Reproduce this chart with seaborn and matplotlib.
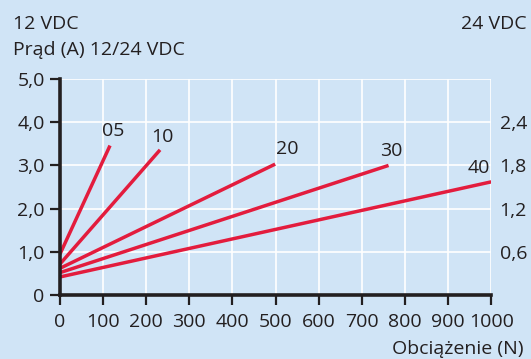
import matplotlib
matplotlib.use("Agg")
import matplotlib.pyplot as plt
import seaborn as sns
import pandas as pd

# -------------------------
# data
# -------------------------
models = ["05", "10", "20", "30", "40"]
load_start = [0, 0, 0, 0, 0]
load_end = [116, 232, 499, 762, 1000]
current_start = [0.95, 0.72, 0.62, 0.52, 0.42]
current_end = [3.46, 3.36, 3.03, 3.0, 2.62]
label_pos = [(123, 3.8), (238, 3.65), (527, 3.37), (768, 3.33), (972, 2.94)]

x_ticks = list(range(0, 1001, 100))
y_ticks = [0, 1, 2, 3, 4, 5]
y_labels = ["0", "1,0", "2,0", "3,0", "4,0", "5,0"]
right_ticks = [1, 2, 3, 4]
right_labels = ["0,6", "1,2", "1,8", "2,4"]

BG = "#D0E4F6"
RED = "#E31C3D"
INK = "#231F20"
FS = 14

rows = []
for m, x0, x1, y0, y1 in zip(models, load_start, load_end, current_start, current_end):
    rows.append({"model": m, "load": x0, "current": y0})
    rows.append({"model": m, "load": x1, "current": y1})
df = pd.DataFrame(rows)

sns.set_style("white")
plt.rcParams["font.family"] = ["Open Sans", "DejaVu Sans"]

fig = plt.figure(figsize=(5.31, 3.59), dpi=100, facecolor=BG)
ax = fig.add_axes([0.113, 0.178, 0.812, 0.602])
ax.set_facecolor(BG)

sns.lineplot(data=df, x="load", y="current", hue="model",
             palette=[RED] * len(models), linewidth=2.5, legend=False, ax=ax)
for line in ax.lines:
    line.set_solid_capstyle("butt")

for m, (lx, ly) in zip(models, label_pos):
    ax.text(lx, ly, m, fontsize=FS, color=INK, ha="center", va="center")

ax.set_xlim(0, 1000)
ax.set_ylim(0, 5)
ax.set_xticks(x_ticks)
ax.set_yticks(y_ticks)
ax.set_yticklabels(y_labels)
ax.grid(True, color="white", linewidth=1.2)
ax.set_axisbelow(True)
ax.tick_params(axis="both", colors=INK, labelsize=FS, length=7, width=1.6,
               direction="out", left=True, bottom=True)
ax.tick_params(axis="x", pad=6)
ax.tick_params(axis="y", pad=4)
ax.set_xlabel("")
ax.set_ylabel("")
for s in ["top", "right"]:
    ax.spines[s].set_visible(False)
for s in ["left", "bottom"]:
    ax.spines[s].set_color(INK)
    ax.spines[s].set_linewidth(2.6)

ax2 = ax.twinx()
ax2.set_ylim(0, 5)
ax2.set_yticks(right_ticks)
ax2.set_yticklabels(right_labels)
ax2.tick_params(axis="y", length=0, labelsize=FS, colors=INK, pad=6)
for s in ax2.spines.values():
    s.set_visible(False)

fig.text(13 / 531, 1 - 24 / 359, "12 VDC", fontsize=FS, color=INK, va="center")
fig.text(13 / 531, 1 - 50 / 359, "Prąd (A) 12/24 VDC", fontsize=FS, color=INK, va="center")
fig.text(527 / 531, 1 - 24 / 359, "24 VDC", fontsize=FS, color=INK, va="center", ha="right")
fig.text(524 / 531, 1 - 349 / 359, "Obciążenie (N)", fontsize=FS, color=INK, va="center", ha="right")

fig.savefig("out.png", dpi=100, facecolor=BG)
